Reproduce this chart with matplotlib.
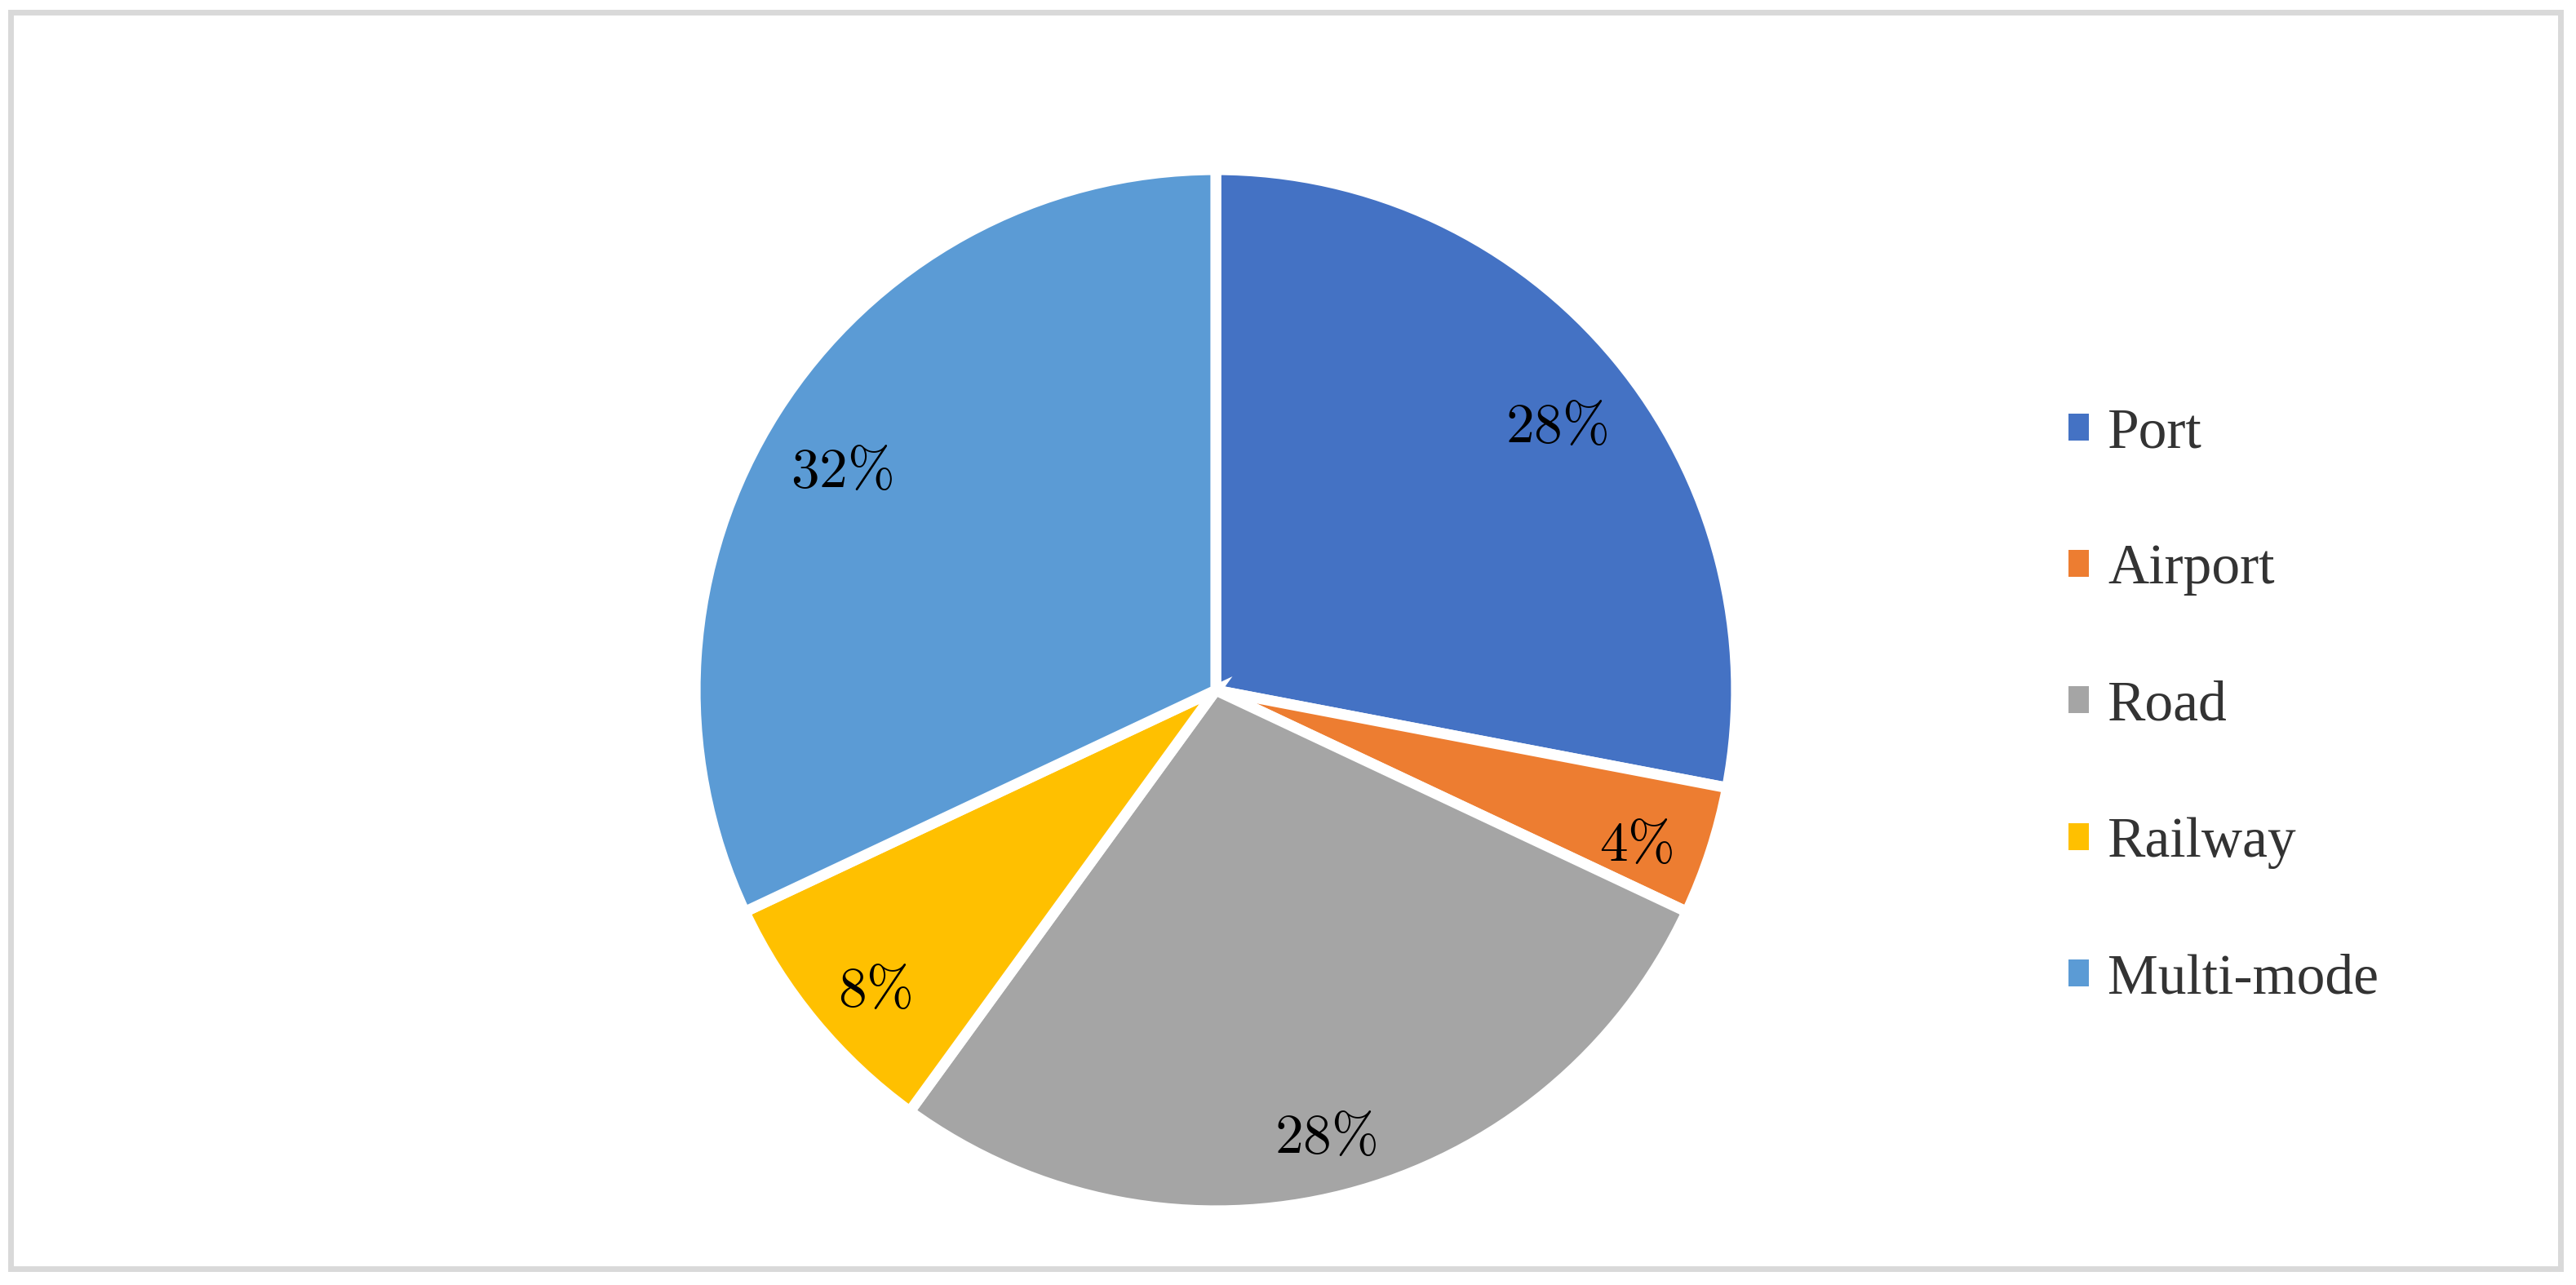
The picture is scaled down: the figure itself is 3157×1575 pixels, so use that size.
import matplotlib.pyplot as plt
from matplotlib.patches import Rectangle
from matplotlib.transforms import offset_copy

plt.rcParams['mathtext.fontset'] = 'cm'

categories = ['Port', 'Airport', 'Road', 'Railway', 'Multi-mode']
shares = [28, 4, 28, 8, 32]
colors = ['#4472C4', '#ED7D31', '#A5A5A5', '#FFC000', '#5B9BD5']

W, H = 3157, 1575
fig = plt.figure(figsize=(W / 100, H / 100), dpi=100)

# pie axes placed in pixel units
cx, cy, r = 1490, H - 846, 638
ax = fig.add_axes([(cx - r) / W, (cy - r) / H, 2 * r / W, 2 * r / H])
wedges, texts, autotexts = ax.pie(
    shares, colors=colors, startangle=90, counterclock=False, radius=1,
    autopct=lambda p: r'$%d\%%$' % round(p), pctdistance=0.85,
    wedgeprops=dict(edgecolor='white', linewidth=9.5),
    textprops=dict(fontsize=50, color='black'))
for t in autotexts:
    t.set_transform(offset_copy(t.get_transform(), fig=fig, y=-22, units='dots'))
ax.set_xlim(-1, 1)
ax.set_ylim(-1, 1)
ax.set_aspect('equal')
ax.axis('off')

leg = fig.legend(wedges, categories, loc='center left',
                 bbox_to_anchor=(2535 / W, 1 - 866 / H),
                 frameon=False, prop=dict(family='Liberation Serif', size=50),
                 handlelength=0.36, handleheight=0.36, handletextpad=0.33,
                 labelspacing=1.495, borderpad=0, borderaxespad=0)
for t in leg.get_texts():
    t.set_color('#333333')
for h in leg.legend_handles:
    h.set_linewidth(0)

# light grey frame around the chart
fig.patches.append(Rectangle((12.5 / W, 1 - 1554.5 / H), 3125 / W, 1540 / H,
                             transform=fig.transFigure, fill=False,
                             edgecolor='#D9D9D9', linewidth=5))

fig.savefig('out.png', dpi=100)
